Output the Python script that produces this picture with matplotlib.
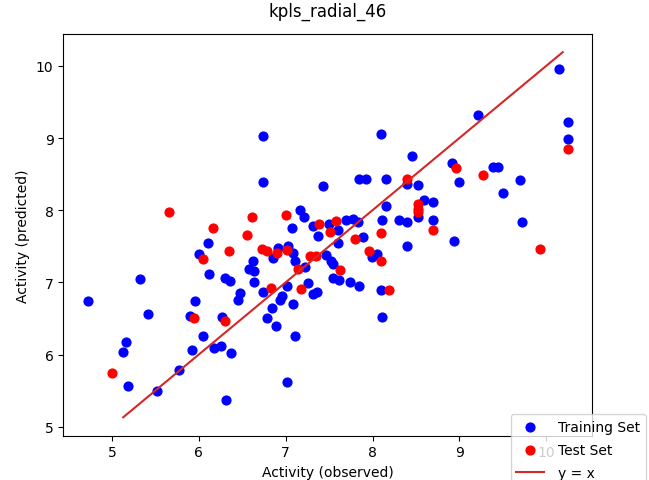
import numpy as np
import matplotlib
matplotlib.use('Agg')
import matplotlib.pyplot as plt

# training set (observed, predicted)
train_obs = [4.72, 5.32, 5.41, 5.16, 5.13, 5.19, 5.52, 5.77, 5.90, 5.92,
             5.96, 6.00, 6.05, 6.11, 6.12, 6.18, 6.25, 6.27, 6.30, 6.31,
             6.36, 6.37, 6.45, 6.48, 6.58, 6.62, 6.63, 6.63, 6.74, 6.74,
             6.745, 6.78, 6.84, 6.85, 6.89, 6.91, 6.94, 6.96, 7.01, 7.01,
             7.03, 7.07, 7.08, 7.08, 7.11, 7.11, 7.16, 7.21, 7.22, 7.26,
             7.32, 7.32, 7.36, 7.37, 7.43, 7.47, 7.50, 7.52, 7.55, 7.55,
             7.60, 7.60, 7.61, 7.70, 7.77, 7.83, 7.74, 7.84, 7.85, 7.89,
             7.92, 7.99, 8.05, 8.10, 8.10, 8.11, 8.11, 8.15, 8.15, 8.30,
             8.40, 8.40, 8.40, 8.46, 8.52, 8.52, 8.59, 8.70, 8.70, 8.92,
             8.94, 9.00, 9.21, 9.39, 9.44, 9.50, 9.70, 9.72, 10.15, 10.25,
             10.25]
train_pred = [6.74, 7.05, 6.56, 6.18, 6.03, 5.57, 5.50, 5.78, 6.53, 6.06,
              6.74, 7.39, 6.26, 7.54, 7.12, 6.09, 6.12, 6.52, 7.06, 5.37,
              7.02, 6.02, 6.76, 6.85, 7.18, 7.29, 7.16, 7.00, 9.03, 8.39,
              6.86, 6.50, 6.64, 7.34, 6.39, 7.48, 6.75, 6.81, 6.95, 5.62,
              7.50, 7.75, 7.40, 6.70, 7.30, 6.25, 8.00, 7.90, 7.21, 6.99,
              7.78, 6.84, 6.87, 7.64, 8.33, 7.38, 7.81, 7.29, 7.25, 7.06,
              7.54, 7.72, 7.03, 7.86, 7.88, 7.83, 7.01, 6.95, 8.43, 7.63,
              8.43, 7.35, 7.39, 6.90, 9.05, 7.86, 6.52, 8.43, 8.06, 7.87,
              8.36, 7.84, 7.51, 8.75, 8.35, 7.90, 8.14, 8.11, 7.86, 8.66,
              7.57, 8.39, 9.32, 8.60, 8.60, 8.24, 8.42, 7.83, 9.95, 9.22,
              8.99]

# test set (observed, predicted)
test_obs = [5.00, 5.66, 5.94, 6.05, 6.16, 6.30, 6.35, 6.56, 6.61, 6.73,
            6.79, 6.83, 6.90, 7.00, 7.01, 7.14, 7.18, 7.28, 7.35, 7.38,
            7.51, 7.58, 7.62, 7.80, 7.96, 8.10, 8.10, 8.19, 8.40, 8.52,
            8.52, 8.52, 8.70, 8.96, 9.27, 9.93, 10.25]
test_pred = [5.74, 7.97, 6.51, 7.33, 7.75, 6.46, 7.43, 7.66, 7.91, 7.46,
             7.44, 6.92, 7.41, 7.94, 7.45, 7.18, 6.91, 7.37, 7.36, 7.81,
             7.70, 7.85, 7.17, 7.60, 7.44, 7.68, 7.30, 6.90, 8.43, 8.09,
             8.02, 7.98, 7.73, 8.58, 8.49, 7.46, 8.85]

line_range = [5.13, 10.19]

fig = plt.figure(figsize=(6.49, 4.81), dpi=100)
ax = fig.add_axes([0.0975, 0.0921, 0.8151, 0.8349])

ax.scatter(train_obs, train_pred, c='b', s=40, label='Training Set')
ax.scatter(test_obs, test_pred, c='r', s=40, label='Test Set')
ax.plot(line_range, line_range, color='C3', label='y = x')

ax.set_xlim(4.44, 10.53)
ax.set_ylim(4.875, 10.44)
ax.set_xlabel('Activity (observed)')
ax.set_ylabel('Activity (predicted)')
ax.set_title('kpls_radial_46', pad=13)

# legend hangs off the lower right corner of the figure, as in the original
fig.legend(loc='upper left', bbox_to_anchor=(510.7 / 649, 1 - 415 / 481),
           bbox_transform=fig.transFigure, borderaxespad=0,
           labelspacing=0.65, handletextpad=1.0)

fig.savefig('out.png', dpi=100)
plt.close()
